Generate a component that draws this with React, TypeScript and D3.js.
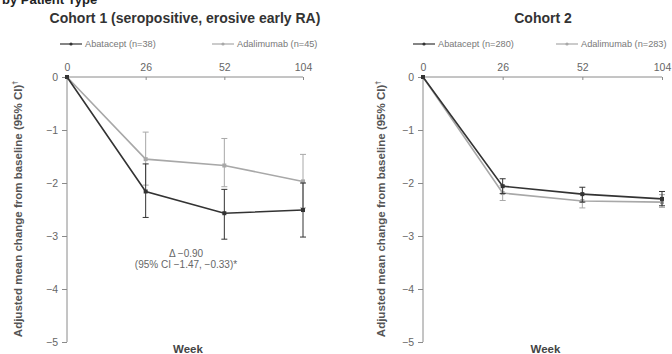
import React, { useEffect, useRef } from 'react';
import * as d3 from 'd3';

const weeks = ['0', '26', '52', '104'];
const yTicks = [0, -1, -2, -3, -4, -5];

// Cohort 1
const c1AbaMean = [0, -2.16, -2.57, -2.51];
const c1AbaLow = [0, -2.65, -3.06, -3.02];
const c1AbaHigh = [0, -1.64, -2.12, -2.0];
const c1AdaMean = [0, -1.55, -1.67, -1.97];
const c1AdaLow = [0, -2.04, -2.07, -2.47];
const c1AdaHigh = [0, -1.04, -1.16, -1.46];

// Cohort 2
const c2AbaMean = [0, -2.06, -2.21, -2.3];
const c2AbaLow = [0, -2.2, -2.36, -2.43];
const c2AbaHigh = [0, -1.92, -2.08, -2.16];
const c2AdaMean = [0, -2.19, -2.34, -2.36];
const c2AdaLow = [0, -2.33, -2.47, -2.46];
const c2AdaHigh = [0, -2.05, -2.2, -2.22];

const DARK = '#333';
const LIGHT = '#a8a8a8';
const AXIS = '#8a8a8a';
const FONT = '"Liberation Sans", Arial, sans-serif';

const App = () => {
  const svgRef = useRef<SVGSVGElement>(null);

  useEffect(() => {
    const svg = d3.select(svgRef.current);
    svg.selectAll('*').remove();
    svg.attr('width', 672).attr('height', 354).style('font-family', FONT);

    svg.append('rect').attr('width', 672).attr('height', 354).attr('fill', '#fff');

    // figure title, cut off at the top edge in the source
    svg.append('text')
      .attr('x', 2).attr('y', 4)
      .attr('font-size', 13).attr('font-weight', 'bold').attr('fill', '#222')
      .text('by Patient Type');

    const yScale = d3.scaleLinear().domain([0, -5]).range([77, 342]);

    const panels = [
      {
        title: 'Cohort 1 (seropositive, erosive early RA)', titleX: 185,
        range: [67, 303], labelX: 18,
        legend: ['Abatacept (n=38)', 'Adalimumab (n=45)'], legendX: [60, 212],
        aba: [c1AbaMean, c1AbaLow, c1AbaHigh], ada: [c1AdaMean, c1AdaLow, c1AdaHigh],
        note: true,
      },
      {
        title: 'Cohort 2', titleX: 543,
        range: [423, 662], labelX: 381,
        legend: ['Abatacept (n=280)', 'Adalimumab (n=283)'], legendX: [413, 556],
        aba: [c2AbaMean, c2AbaLow, c2AbaHigh], ada: [c2AdaMean, c2AdaLow, c2AdaHigh],
        note: false,
      },
    ];

    panels.forEach(p => {
      const xScale = d3.scalePoint().domain(weeks).range(p.range as [number, number]);
      const g = svg.append('g');
      const x0 = p.range[0];
      const cx = (p.range[0] + p.range[1]) / 2;

      g.append('text')
        .attr('x', p.titleX).attr('y', 23).attr('text-anchor', 'middle')
        .attr('font-size', 14).attr('font-weight', 'bold').attr('fill', '#333')
        .text(p.title);

      // legend
      [DARK, LIGHT].forEach((c, i) => {
        const lx = p.legendX[i];
        g.append('line').attr('x1', lx).attr('x2', lx + 22).attr('y1', 44).attr('y2', 44)
          .attr('stroke', c).attr('stroke-width', 1.2);
        g.append('circle').attr('cx', lx + 11).attr('cy', 44).attr('r', 1.6).attr('fill', c);
        g.append('text').attr('x', lx + 25).attr('y', 47)
          .attr('font-size', 9.2).attr('fill', '#777').text(p.legend[i]);
      });

      // x axis on top
      const xAxis = d3.axisTop(xScale).tickSize(-3).tickPadding(6);
      const xg = g.append('g').attr('transform', `translate(0,${yScale(0)})`).call(xAxis);
      xg.select('.domain').attr('stroke', AXIS).attr('d', `M${p.range[0]},0H${p.range[1]}`);
      xg.selectAll('.tick line').attr('stroke', AXIS);
      xg.selectAll('.tick text').attr('font-size', 10.5).attr('fill', '#666').attr('font-family', FONT);

      // y axis
      const yAxis = d3.axisLeft(yScale).tickValues(yTicks).tickSize(5).tickPadding(4)
        .tickFormat(d => (d as number) === 0 ? '0' : '\u2212' + Math.abs(d as number));
      const yg = g.append('g').attr('transform', `translate(${x0},0)`).call(yAxis);
      yg.select('.domain').attr('stroke', AXIS).attr('d', `M0,${yScale(0)}V${yScale(-5)}`);
      yg.selectAll('.tick line').attr('stroke', AXIS);
      yg.selectAll('.tick text').attr('font-size', 10.5).attr('fill', '#666').attr('font-family', FONT);

      // y label
      g.append('text')
        .attr('transform', `translate(${p.labelX + 4},209) rotate(-90)`)
        .attr('text-anchor', 'middle')
        .attr('font-size', 11.5).attr('font-weight', 'bold').attr('fill', '#555')
        .text('Adjusted mean change from baseline (95% CI)')
        .append('tspan').attr('font-size', 7).attr('dy', -5).text('\u2020');

      g.append('text')
        .attr('x', cx + 3).attr('y', 353).attr('text-anchor', 'middle')
        .attr('font-size', 11.5).attr('font-weight', 'bold').attr('fill', '#444')
        .text('Week');

      const line = d3.line<number>()
        .x((_, i) => xScale(weeks[i]) as number)
        .y(d => yScale(d));

      // light series first, dark on top
      [[p.ada, LIGHT], [p.aba, DARK]].forEach(([series, color]) => {
        const [mean, low, high] = series as number[][];
        const c = color as string;
        weeks.forEach((w, i) => {
          if (i === 0) return;
          const x = xScale(w) as number;
          g.append('line').attr('x1', x).attr('x2', x)
            .attr('y1', yScale(low[i])).attr('y2', yScale(high[i]))
            .attr('stroke', c).attr('stroke-width', 1);
          [low[i], high[i]].forEach(v => {
            g.append('line').attr('x1', x - 3).attr('x2', x + 3)
              .attr('y1', yScale(v)).attr('y2', yScale(v))
              .attr('stroke', c).attr('stroke-width', 1);
          });
        });
        g.append('path').datum(mean).attr('d', line)
          .attr('fill', 'none').attr('stroke', c).attr('stroke-width', 1.6);
        g.selectAll(null).data(mean).enter().append('rect')
          .attr('x', (_, i) => (xScale(weeks[i]) as number) - 2)
          .attr('y', d => yScale(d) - 2)
          .attr('width', 4).attr('height', 4).attr('fill', c);
      });

      if (p.note) {
        g.append('text').attr('x', 186).attr('y', 257).attr('text-anchor', 'middle')
          .attr('font-size', 10).attr('fill', '#666').text('\u0394 \u22120.90');
        g.append('text').attr('x', 186).attr('y', 268).attr('text-anchor', 'middle')
          .attr('font-size', 10).attr('fill', '#666')
          .text('(95% CI \u22121.47, \u22120.33)*');
      }
    });
  }, []);

  return <svg ref={svgRef} style={{ position: 'absolute', left: 0, top: 0 }}></svg>;
};

export default App;
